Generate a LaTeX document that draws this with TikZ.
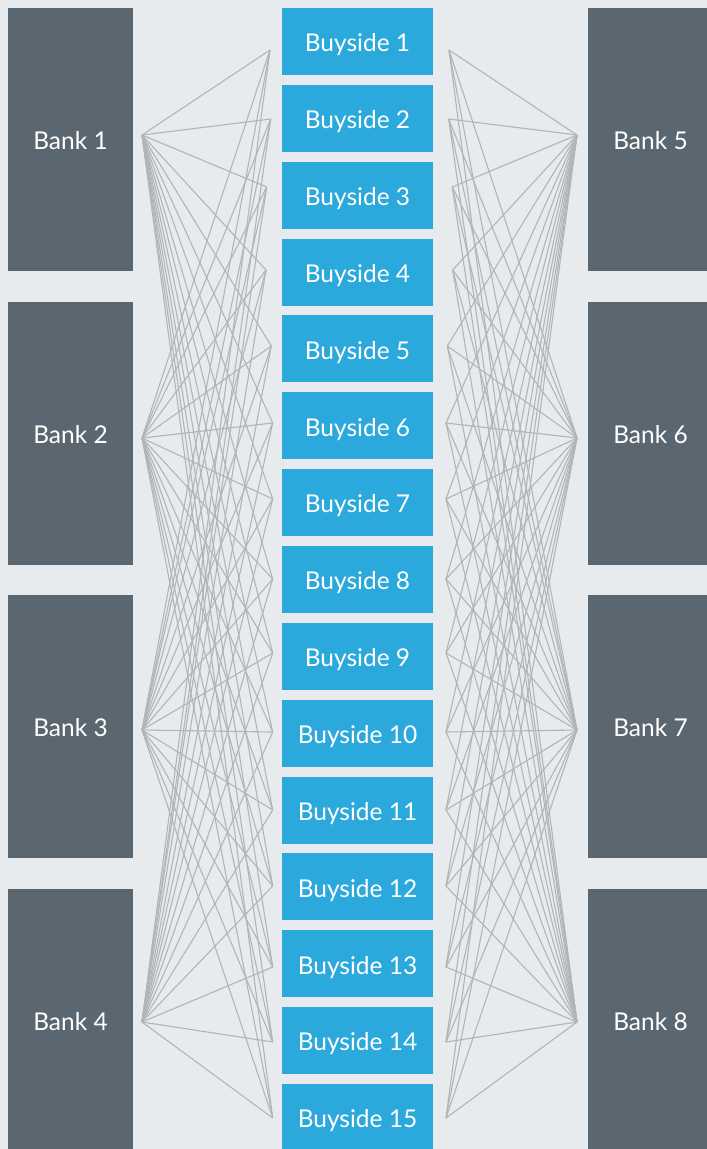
\documentclass[tikz,border=0pt]{standalone}
\usepackage{fontspec}
\setmainfont{Lato}
\definecolor{bgcol}{HTML}{E8EBEE}
\definecolor{bankcol}{HTML}{5B6770}
\definecolor{buycol}{HTML}{2CA9DC}
\definecolor{linkcol}{HTML}{B1B5B8}
\begin{document}
\begin{tikzpicture}[x=1pt,y=-1pt,
  label text/.style={text=white, inner sep=0pt, text height=20.5pt, text depth=0pt,
    font=\fontsize{24.5}{29}\selectfont},
  bankbox/.style={label text, fill=bankcol, minimum width=125pt, minimum height=263pt},
  buybox/.style={label text, fill=buycol, minimum width=151pt, minimum height=67pt},
  link/.style={draw=linkcol, line width=1.1pt}]
\useasboundingbox (0,0) rectangle (707,1149);
\clip (0,0) rectangle (707,1149);
\fill[bgcol] (0,0) rectangle (707,1149);

% banks on the left and on the right
\foreach \i/\yc in {1/139.5, 2/433.5, 3/726.5, 4/1020.5} {
  \node[bankbox] (bank\i) at (70.5,\yc) {Bank \i};
}
\foreach \i/\yc in {5/139.5, 6/433.5, 7/726.5, 8/1020.5} {
  \node[bankbox] (bank\i) at (650.5,\yc) {Bank \i};
}

% buyside column
\foreach \i in {1,...,15} {
  \pgfmathsetmacro{\yc}{41.5+76.86*(\i-1)}
  \node[buybox] (buy\i) at (357.5,\yc) {Buyside \i};
}

% link anchors beside the banks
\coordinate (a1) at (142,135);
\coordinate (a2) at (142,438);
\coordinate (a3) at (142,730);
\coordinate (a4) at (142,1022);
\coordinate (a5) at (577,135);
\coordinate (a6) at (577,438);
\coordinate (a7) at (577,730);
\coordinate (a8) at (577,1022);

% link anchors beside the buyside boxes
\foreach \i/\xl/\xr/\yy in {1/270/449/50, 2/270.7/448.7/119, 3/266.7/452.3/187,
  4/266/452.7/270, 5/271.3/447.3/346, 6/272.7/446/423, 7/272.7/446/499,
  8/272.7/446/579, 9/272.7/446/653, 10/272.7/446/732, 11/272.7/446/810,
  12/272.7/446/886, 13/272.7/446/967, 14/272.7/446/1042, 15/272.7/446/1118} {
  \coordinate (l\i) at (\xl,\yy);
  \coordinate (r\i) at (\xr,\yy);
}

% every bank links to every buyside firm
\foreach \b in {1,2,3,4} {
  \foreach \i in {1,...,15} {
    \draw[link] (a\b) -- (l\i);
  }
}
\foreach \b in {5,6,7,8} {
  \foreach \i in {1,...,15} {
    \draw[link] (a\b) -- (r\i);
  }
}
\end{tikzpicture}
\end{document}
